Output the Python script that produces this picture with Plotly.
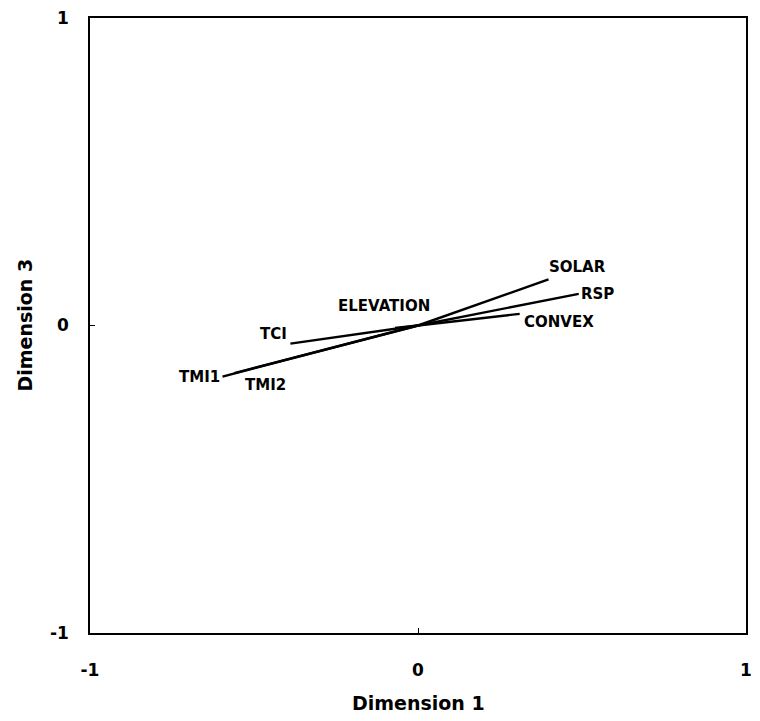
import plotly.graph_objects as go

variables = ["SOLAR", "RSP", "CONVEX", "ELEVATION", "TCI", "TMI1", "TMI2"]
dim1 = [0.398, 0.49, 0.31, -0.07, -0.389, -0.596, -0.56]
dim3 = [0.15, 0.103, 0.038, -0.008, -0.059, -0.166, -0.155]
label_x = [0.487, 0.547, 0.43, -0.105, -0.442, -0.665, -0.466]
label_y = [0.189, 0.104, 0.013, 0.062, -0.026, -0.166, -0.195]
tick_vals = [-1, 0, 1]
tick_text = ["-1", "0", "1"]
x_title = "Dimension 1"
y_title = "Dimension 3"

FONT = "DejaVu Sans"

fig = go.Figure()
for name, x, y in zip(variables, dim1, dim3):
    fig.add_trace(go.Scatter(x=[0, x], y=[0, y], mode="lines",
                             line=dict(color="black", width=2.4),
                             showlegend=False, hoverinfo="skip"))

for name, x, y in zip(variables, label_x, label_y):
    fig.add_annotation(x=x, y=y, text="<b>" + name + "</b>", showarrow=False,
                       xanchor="center", yanchor="middle",
                       font=dict(family=FONT, size=15, color="black"))

fig.add_annotation(xref="paper", yref="paper", x=0.5, y=0, yshift=-70,
                   xanchor="center", yanchor="middle",
                   text="<b>" + x_title + "</b>", showarrow=False,
                   font=dict(family=FONT, size=19, color="black"))
fig.add_annotation(xref="paper", yref="paper", x=0, y=0.5, xshift=-66,
                   xanchor="center", yanchor="middle",
                   text="<b>" + y_title + "</b>", showarrow=False, textangle=-90,
                   font=dict(family=FONT, size=19, color="black"))

axis_common = dict(range=[-1, 1], showgrid=False, zeroline=False, automargin=False,
                   showline=True, linecolor="black", linewidth=1.6, mirror=True,
                   ticks="inside", ticklen=5, tickcolor="black",
                   tickvals=tick_vals, ticktext=tick_text,
                   ticklabeloverflow="allow",
                   tickfont=dict(family=FONT, size=17, color="black", weight="bold"))

fig.update_layout(
    width=744, height=705,
    margin=dict(l=82, r=6, t=10, b=80),
    plot_bgcolor="white", paper_bgcolor="white",
    xaxis=dict(**axis_common, ticklabelstandoff=21),
    yaxis=dict(**axis_common, ticklabelstandoff=16),
)

fig.write_html("out.html")
